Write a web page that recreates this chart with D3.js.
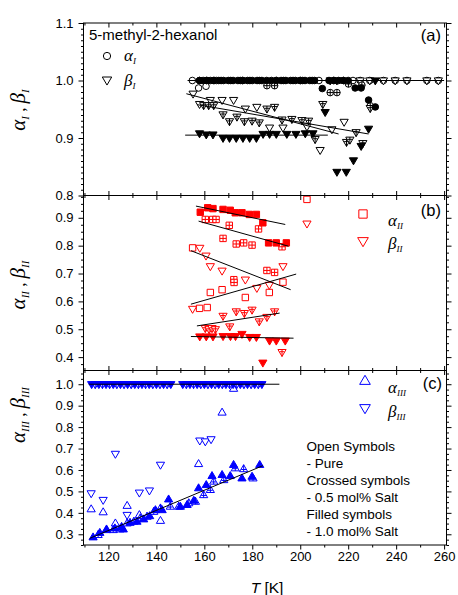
<!DOCTYPE html>
<html>
<head>
<meta charset="utf-8">
<script src="https://cdn.jsdelivr.net/npm/d3@7"></script>
<style>
  body { margin: 0; background: #fff; }
  svg { display: block; }
</style>
</head>
<body>
<svg id="chart" width="458" height="595"></svg>
<script>
// ---------- axis ticks ----------
const tTicks  = [120, 140, 160, 180, 200, 220, 240, 260];
const yTicksA = [0.8, 0.9, 1.0, 1.1];
const yTicksB = [0.4, 0.5, 0.6, 0.7, 0.8, 0.9];
const yTicksC = [0.3, 0.4, 0.5, 0.6, 0.7, 0.8, 0.9, 1.0];

// ---------- panel (a): process I, [T (K), value] ----------
const alphaI_pure = [[155,1],[157.6,0.987],[160.7,0.990],[165,1],[176,1],[190,1],[200,1],[207.8,1],[214,1],
  [222,1],[225,1],[229,1],[234.7,1],[239.6,1],[244.5,1],[252.8,1],[257.6,1]];
const alphaI_s05 = [[158,1],[161,1],[164,1],[167,1],[171,1],[175,1],[179,1],[183,1],[193,1],[197,1],[201,1],
  [205,1],[218,1],[186.1,0.991],[189.3,0.991],[212.5,0.979],[215.3,0.979],[220.1,0.994],[225.7,0.992],[229.2,0.956]];
const alphaI_s10 = [[158,1],[159.5,1],[161,1],[162.5,1],[164,1],[166,1],[168,1],[170,1],[172,1],[174,1],[176,1],
  [178,1],[180,1],[182,1],[184,1],[186,1],[188,1],[190,1],[192,1],[194,1],[196,1],[198,1],[200,1],[202,1],[204,1],
  [206,1],[212,1],[214,1],[216,1],[218,1],[220,1],[209.2,0.986],[222.9,0.987],[225.4,0.987],[228.5,0.966],[231.3,0.954]];
const betaI_pure = [[155.3,0.977],[158,0.959],[162.5,0.966],[167.4,0.966],[172.2,0.966],[177.1,0.951],[181.9,0.954],
  [187.2,0.918],[192.8,0.918],[202.8,0.920],[208.3,0.879],[213.2,0.915],[218.3,0.928],
  [225,1],[229,1],[234.7,1],[239.6,1],[244.5,1],[252.8,1],[257.6,1]];
const betaI_s05 = [[159.7,0.957],[161.8,0.957],[163.9,0.957],[167.8,0.941],[170.5,0.929],[173.6,0.937],[176.7,0.929],
  [179.9,0.930],[182.9,0.927],[186.1,0.951],[189.3,0.954],[192.4,0.932],[196.5,0.933],[200.7,0.931],[203.5,0.930],
  [206.2,0.898],[209.4,0.959],[219.3,0.893],[220.7,0.897],[223.3,0.910],[226.1,0.891],[229.2,0.952]];
const betaI_s10 = [[158,0.908],[160.8,0.906],[163.6,0.906],[167.8,0.900],[170.5,0.900],[173.3,0.900],[176.1,0.900],
  [178.9,0.900],[181.7,0.900],[184.5,0.907],[187.2,0.907],[190,0.907],[194.4,0.907],[198.2,0.907],[202.1,0.908],
  [205.3,0.908],[210.4,0.945],[212.5,1],[215.3,1],[231.3,1],[215.3,0.841],[219.2,0.841],[222.2,0.861],[225.4,0.886],[228.5,0.916]];
const fitsI = [
  [[153, 1.0], [260, 1.0]],
  [[152.5, 0.977], [216, 0.907]],
  [[157, 0.958], [228.5, 0.907]],
  [[152, 0.905], [211.5, 0.905]]
];

// ---------- panel (b): process II ----------
const alphaII_pure = [[155.1,0.792],[158,0.575],[161.2,0.578],[162.5,0.632],[167.4,0.642],[177.1,0.614],
  [187.1,0.632],[192.8,0.669],[202.8,0.966]];
const alphaII_s05 = [[160.4,0.894],[163.5,0.894],[164.9,0.894],[170.4,0.873],[167.8,0.826],[173.3,0.806],[176.4,0.810],
  [179.9,0.802],[182.6,0.860],[186.1,0.711],[189.3,0.704],[192.4,0.796],[172.3,0.678],[172.4,0.668]];
const alphaII_s10 = [[158.3,0.920],[161.4,0.936],[163.6,0.933],[167.8,0.930],[170.8,0.927],[172.9,0.918],[175.7,0.918],
  [178.75,0.912],[181.7,0.912],[184.4,0.882],[186.8,0.810],[190,0.810],[194.2,0.810]];
const betaII_pure = [[155.1,0.573],[158.1,0.792],[160.7,0.764],[162.5,0.726],[167.4,0.710],[177.1,0.678],
  [181.9,0.648],[187.1,0.659],[192.8,0.726],[202.8,0.879]];
const betaII_s05 = [[160.4,0.504],[162,0.500],[163.2,0.504],[164.6,0.500],[167.8,0.548],[170.6,0.510],[173.3,0.564],
  [176.7,0.558],[179.9,0.570],[182.9,0.528],[186.1,0.544],[189.3,0.564],[192.4,0.418]];
const betaII_s10 = [[158.1,0.474],[160.8,0.474],[163.6,0.474],[167.8,0.475],[170.9,0.475],[173,0.475],[175.7,0.483],
  [178.9,0.472],[181.7,0.472],[184.4,0.380],[187.2,0.459],[190,0.459],[193.75,0.459]];
const fitsII = [
  [[156.5, 0.942], [193.75, 0.876]],
  [[157.6, 0.888], [195.1, 0.798]],
  [[154.4, 0.782], [196, 0.642]],
  [[154.4, 0.590], [198.3, 0.698]],
  [[156.9, 0.512], [191.4, 0.558]],
  [[154.4, 0.474], [197.2, 0.468]]
];

// ---------- panel (c): process III ----------
const alphaIII_pure = [[112.8,0.417],[117.8,0.403],[122.9,0.351],[127.8,0.433],[132.9,0.390],[141.7,0.363],
  [157.6,0.628],[167.4,0.868],[172.2,0.979]];
const alphaIII_s05 = [[115.7,0.297],[119.2,0.320],[122,0.320],[124.8,0.323],[127.8,0.351],[130.6,0.359],[133.3,0.375],
  [136.1,0.382],[138.9,0.405],[141.7,0.421],[145.8,0.429],[149.3,0.429],[153.5,0.445],[156.3,0.452],[159.7,0.483],
  [162.5,0.507],[163.9,0.546],[168.1,0.553],[172.9,0.608],[176.4,0.604],[180.3,0.561]];
const alphaIII_s10 = [[113.6,0.286],[116.4,0.307],[119.2,0.323],[122.7,0.328],[125.5,0.335],[126.2,0.323],[129,0.354],
  [131.9,0.359],[134.7,0.370],[137.2,0.385],[139.6,0.413],[142.4,0.413],[145.1,0.463],[150,0.429],[152.8,0.437],
  [155.6,0.457],[157.6,0.515],[160.8,0.530],[163.2,0.572],[167.4,0.577],[170.8,0.572],[172.2,0.624],[175.7,0.561],
  [179.9,0.569],[183.1,0.624]];
const betaIII_pure = [[112.8,0.491],[117.8,0.460],[122.9,0.675],[127.8,0.390],[132.9,0.494],[137.1,0.504],
  [141.7,0.624],[158.1,0.737],[160.4,0.733],[162.8,0.743]];
const betaIII_s05 = [[114.5,1],[117.5,1],[120.5,1],[123.5,1],[126.5,1],[129.5,1],[132.5,1],[135.5,1],[138.5,1],
  [141.5,1],[144.5,1],[152.5,1],[155.5,1],[158.5,1],[161.5,1],[164.5,1],[167.5,1],[170.5,1],[173.5,1],[176.5,1],
  [179.5,1],[182.5,1]];
const betaIII_s10 = [[113,1],[116,1],[119,1],[122,1],[125,1],[128,1],[131,1],[134,1],[137,1],[140,1],[143,1],[146,1],
  [151,1],[154,1],[157,1],[160,1],[163,1],[166,1],[169,1],[172,1],[175,1],[178,1],[181,1],[184,1]];
const fitsIII = [
  [[111.8, 1.0], [191.3, 1.0]],
  [[112.2, 0.281], [184.4, 0.620]]
];

const legendNotes = ["Open Symbols", "- Pure", "Crossed symbols", "- 0.5 mol% Salt", "Filled symbols", "- 1.0 mol% Salt"];

// ---------- layout ----------
const svg = d3.select("#chart");
const SANS = "'Liberation Sans', Arial, sans-serif";
const SERIF = "'Liberation Serif', 'Times New Roman', serif";
const left = 83.5, right = 446.5;

const x = d3.scaleLinear().domain([109.6, 261]).range([left, right]);

const panels = [
  { key: "a", top: 23, bottom: 195.5, domain: [0.8, 1.1], ticks: yTicksA, minorStep: 0.01, color: "#000000",
    roman: "I", labelY: 110, fits: fitsI,
    series: [
      { data: alphaI_pure, shape: "circle", style: "open" },
      { data: betaI_pure, shape: "down", style: "open" },
      { data: alphaI_s05, shape: "circle", style: "cross" },
      { data: betaI_s05, shape: "down", style: "cross" },
      { data: alphaI_s10, shape: "circle", style: "fill" },
      { data: betaI_s10, shape: "down", style: "fill" }
    ] },
  { key: "b", top: 195.5, bottom: 370.5, domain: [0.352, 0.98], ticks: yTicksB, minorStep: 0.025, color: "#ff0000",
    roman: "II", labelY: 285, fits: fitsII,
    series: [
      { data: alphaII_pure, shape: "square", style: "open" },
      { data: betaII_pure, shape: "down", style: "open" },
      { data: alphaII_s05, shape: "square", style: "cross" },
      { data: betaII_s05, shape: "down", style: "cross" },
      { data: alphaII_s10, shape: "square", style: "fill" },
      { data: betaII_s10, shape: "down", style: "fill" }
    ] },
  { key: "c", top: 370.5, bottom: 545, domain: [0.25, 1.064], ticks: yTicksC, minorStep: 0.025, color: "#0000ff",
    roman: "III", labelY: 415, fits: fitsIII,
    series: [
      { data: alphaIII_pure, shape: "up", style: "open" },
      { data: betaIII_pure, shape: "down", style: "open" },
      { data: alphaIII_s05, shape: "up", style: "cross" },
      { data: betaIII_s05, shape: "down", style: "cross" },
      { data: alphaIII_s10, shape: "up", style: "fill" },
      { data: betaIII_s10, shape: "down", style: "fill" }
    ] }
];

// ---------- marker shapes ----------
function outline(shape, k) {
  const p = d3.path();
  if (shape === "circle") { p.arc(0, 0, 3.3 * k, 0, 2 * Math.PI); p.closePath(); }
  else if (shape === "square") { const h = 3.2 * k; p.rect(-h, -h, 2 * h, 2 * h); }
  else if (shape === "up") { p.moveTo(0, -4.4 * k); p.lineTo(4.1 * k, 2.6 * k); p.lineTo(-4.1 * k, 2.6 * k); p.closePath(); }
  else { p.moveTo(0, 4.4 * k); p.lineTo(4.1 * k, -2.6 * k); p.lineTo(-4.1 * k, -2.6 * k); p.closePath(); }
  return p.toString();
}
function crossMark(shape, k) {
  if (shape === "circle") return `M${-3.3*k},0H${3.3*k}M0,${-3.3*k}V${3.3*k}`;
  if (shape === "square") return `M${-3.2*k},0H${3.2*k}M0,${-3.2*k}V${3.2*k}`;
  if (shape === "up") return `M0,${-4.4*k}V${2.6*k}M${-2.4*k},${0.4*k}H${2.4*k}`;
  return `M0,${4.4*k}V${-2.6*k}M${-2.4*k},${-0.4*k}H${2.4*k}`;
}
function marker(g, shape, style, color, cx, cy, k) {
  const m = g.append("g").attr("transform", `translate(${cx},${cy})`);
  m.append("path").attr("d", outline(shape, k))
    .attr("fill", style === "fill" ? color : "#fff")
    .attr("stroke", color).attr("stroke-width", 1);
  if (style === "cross") {
    m.append("path").attr("d", crossMark(shape, k)).attr("fill", "none")
      .attr("stroke", color).attr("stroke-width", 1);
  }
}

// subscripted Greek label: parts = [[greek, sub], ...]
function greekText(sel, parts, size, subSize, shift) {
  parts.forEach((pt, i) => {
    if (i > 0) sel.append("tspan").attr("font-size", size * 0.8).attr("font-style", "normal")
      .attr("dy", -shift).text(" , ");
    sel.append("tspan").attr("font-size", size).attr("dy", i > 0 ? 0 : 0).text(pt[0]);
    sel.append("tspan").attr("font-size", subSize).attr("dy", shift).text(pt[1]);
  });
}

// ---------- draw panels ----------
panels.forEach((P, idx) => {
  const y = d3.scaleLinear().domain(P.domain).range([P.bottom, P.top]);
  const g = svg.append("g");

  // markers
  const gm = g.append("g");
  P.series.forEach(s => {
    s.data.forEach(d => marker(gm, s.shape, s.style, P.color, x(d[0]), y(d[1]), 1));
  });

  // linear fits
  const line = d3.line().x(d => x(d[0])).y(d => y(d[1]));
  P.fits.forEach(f => g.append("path").attr("d", line(f)).attr("fill", "none")
    .attr("stroke", "#000").attr("stroke-width", 1));

  // frame
  g.append("rect").attr("x", left).attr("y", P.top).attr("width", right - left).attr("height", P.bottom - P.top)
    .attr("fill", "none").attr("stroke", "#000").attr("stroke-width", 1);

  // minor y values
  const lo = Math.ceil(P.domain[0] / P.minorStep - 1e-6), hi = Math.floor(P.domain[1] / P.minorStep + 1e-6);
  const yMinor = d3.range(lo, hi + 1).map(i => +(i * P.minorStep).toFixed(4))
    .filter(v => !P.ticks.some(t => Math.abs(t - v) < 1e-6));
  const xMinor = d3.range(110, 261, 10).filter(v => !tTicks.includes(v));

  const styleAxis = sel => {
    sel.select(".domain").remove();
    sel.selectAll("line").attr("stroke", "#000").attr("stroke-width", 1);
    sel.selectAll("text").attr("font-family", SANS).attr("font-size", 13).attr("fill", "#000");
  };

  // left axis (outward), labelled
  g.append("g").attr("transform", `translate(${left},0)`)
    .call(d3.axisLeft(y).tickValues(P.ticks).tickSize(5).tickPadding(5).tickFormat(d3.format(".1f")))
    .call(styleAxis);
  g.append("g").attr("transform", `translate(${left},0)`)
    .call(d3.axisLeft(y).tickValues(yMinor).tickSize(2.5).tickFormat(""))
    .call(styleAxis);
  // right axis (outward), no labels
  g.append("g").attr("transform", `translate(${right},0)`)
    .call(d3.axisRight(y).tickValues(P.ticks).tickSize(5).tickFormat(""))
    .call(styleAxis);
  g.append("g").attr("transform", `translate(${right},0)`)
    .call(d3.axisRight(y).tickValues(yMinor).tickSize(2.5).tickFormat(""))
    .call(styleAxis);

  // top axis, ticks inward
  g.append("g").attr("transform", `translate(0,${P.top})`)
    .call(d3.axisBottom(x).tickValues(tTicks).tickSize(4.5).tickFormat(""))
    .call(styleAxis);
  g.append("g").attr("transform", `translate(0,${P.top})`)
    .call(d3.axisBottom(x).tickValues(xMinor).tickSize(2.5).tickFormat(""))
    .call(styleAxis);

  // bottom axis
  if (idx < panels.length - 1) {
    g.append("g").attr("transform", `translate(0,${P.bottom})`)
      .call(d3.axisTop(x).tickValues(tTicks).tickSize(4.5).tickFormat(""))
      .call(styleAxis);
    g.append("g").attr("transform", `translate(0,${P.bottom})`)
      .call(d3.axisTop(x).tickValues(xMinor).tickSize(2.5).tickFormat(""))
      .call(styleAxis);
  } else {
    g.append("g").attr("transform", `translate(0,${P.bottom})`)
      .call(d3.axisBottom(x).tickValues(tTicks).tickSize(4.5).tickPadding(2).tickFormat(d3.format("d")))
      .call(styleAxis);
    g.append("g").attr("transform", `translate(0,${P.bottom})`)
      .call(d3.axisBottom(x).tickValues(xMinor).tickSize(2.5).tickFormat(""))
      .call(styleAxis);
  }

  // y-axis title
  const yt = svg.append("text")
    .attr("transform", `translate(25,${P.labelY}) rotate(-90)`)
    .attr("text-anchor", "middle").attr("font-family", SERIF).attr("font-style", "italic").attr("fill", "#000");
  greekText(yt, [["α", P.roman], ["β", P.roman]], 21, 11, 4);
});

// ---------- legends and annotations ----------
const ann = svg.append("g");

// panel (a)
ann.append("text").attr("x", 89).attr("y", 40).attr("font-family", SANS).attr("font-size", 15).text("5-methyl-2-hexanol");
ann.append("text").attr("x", 441).attr("y", 41).attr("text-anchor", "end").attr("font-family", SANS).attr("font-size", 16.5).text("(a)");
marker(ann, "circle", "open", "#000", 107, 56, 1.1);
marker(ann, "down", "open", "#000", 107, 80, 1.15);
greekText(ann.append("text").attr("x", 124).attr("y", 61).attr("font-family", SERIF).attr("font-style", "italic"),
  [["α", "I"]], 17, 9, 3);
greekText(ann.append("text").attr("x", 124).attr("y", 86).attr("font-family", SERIF).attr("font-style", "italic"),
  [["β", "I"]], 17, 9, 3);

// panel (b)
ann.append("text").attr("x", 441).attr("y", 216).attr("text-anchor", "end").attr("font-family", SANS).attr("font-size", 16.5).text("(b)");
marker(ann, "square", "open", "#ff0000", 363, 214, 1.3);
marker(ann, "down", "open", "#ff0000", 363, 241, 1.3);
greekText(ann.append("text").attr("x", 388).attr("y", 226).attr("font-family", SERIF).attr("font-style", "italic").attr("fill", "#000"),
  [["α", "II"]], 17, 9, 3);
greekText(ann.append("text").attr("x", 388).attr("y", 249).attr("font-family", SERIF).attr("font-style", "italic").attr("fill", "#000"),
  [["β", "II"]], 17, 9, 3);

// panel (c)
ann.append("text").attr("x", 442).attr("y", 389).attr("text-anchor", "end").attr("font-family", SANS).attr("font-size", 16.5).text("(c)");
marker(ann, "up", "open", "#0000ff", 365, 381, 1.3);
marker(ann, "down", "open", "#0000ff", 365, 408, 1.3);
greekText(ann.append("text").attr("x", 388).attr("y", 393).attr("font-family", SERIF).attr("font-style", "italic"),
  [["α", "III"]], 17, 9, 3);
greekText(ann.append("text").attr("x", 388).attr("y", 417).attr("font-family", SERIF).attr("font-style", "italic"),
  [["β", "III"]], 17, 9, 3);

legendNotes.forEach((t, i) => {
  ann.append("text").attr("x", 306.5).attr("y", 451 + i * 17)
    .attr("font-family", SANS).attr("font-size", 13.5).text(t);
});

// x-axis title
const xt = ann.append("text").attr("x", 267).attr("y", 593).attr("text-anchor", "middle")
  .attr("font-family", SANS).attr("font-size", 15.5);
xt.append("tspan").attr("font-style", "italic").text("T");
xt.append("tspan").text(" [K]");
</script>
</body>
</html>
